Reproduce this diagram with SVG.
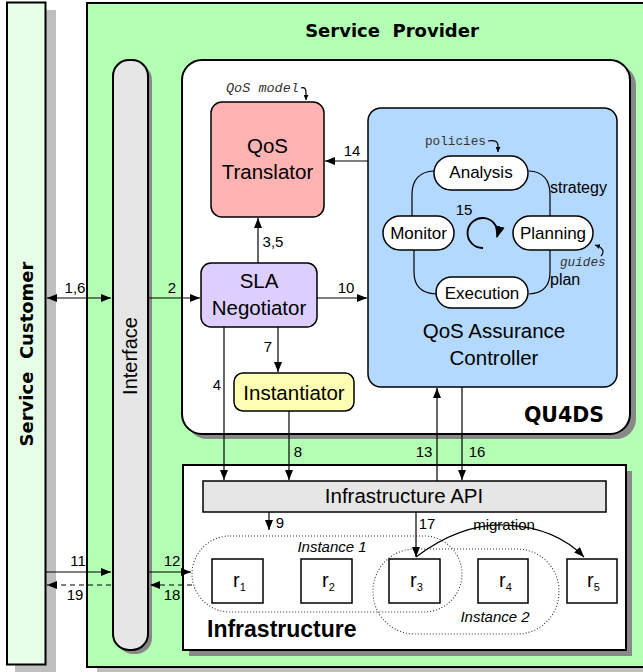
<svg xmlns="http://www.w3.org/2000/svg" width="643" height="672" viewBox="0 0 643 672">
<defs>
<marker id="ah" viewBox="0 0 10 8" refX="10" refY="4" markerWidth="10" markerHeight="8" markerUnits="userSpaceOnUse" orient="auto-start-reverse"><path d="M0,0 L10,4 L0,8 Z" fill="#000"/></marker>
<marker id="ahs" viewBox="0 0 6 6" refX="6" refY="3" markerWidth="5" markerHeight="5" markerUnits="userSpaceOnUse" orient="auto"><path d="M0,0 L6,3 L0,6 Z" fill="#000"/></marker>
<marker id="ahl" viewBox="0 0 12 10" refX="11" refY="5" markerWidth="12" markerHeight="10" markerUnits="userSpaceOnUse" orient="auto"><path d="M0,0 L12,5 L0,10 Z" fill="#000"/></marker>
</defs>
<style>
.t{font-family:"Liberation Sans",Arial,sans-serif;fill:#000}
.b{font-family:"DejaVu Sans",sans-serif;font-weight:bold;fill:#000;white-space:pre}
.m{font-family:"Liberation Mono","DejaVu Sans Mono",monospace;fill:#333}
.lbl{font-family:"Liberation Sans",Arial,sans-serif;font-size:15px;fill:#000}
.c{stroke:#000;stroke-width:1.2;fill:none}
.d{stroke:#000;stroke-width:1.2;fill:none;stroke-dasharray:5,4}
.dot{stroke:#333;stroke-width:1.1;fill:none;stroke-dasharray:1,2}
.box{stroke:#000;stroke-width:2}
.sb{stroke:#000;stroke-width:1.5}
</style>
<rect width="643" height="672" fill="#fff"/>
<!-- Service Customer -->
<g id="customer">
<rect x="15" y="10" width="41" height="662" fill="#bfbfbf"/>
<rect x="7" y="2.5" width="38.5" height="662" fill="#e6ffe6" class="box"/>
<text class="b" font-size="18" transform="translate(33,354) rotate(-90)" text-anchor="middle">Service  Customer</text>
</g>
<!-- Service Provider -->
<g id="provider">
<rect x="97" y="12" width="560" height="662" fill="#bfbfbf"/>
<rect x="87" y="3" width="570" height="664" fill="#b3ffb3" class="box"/>
<text class="b" font-size="18" x="392" y="37" text-anchor="middle">Service  Provider</text>
</g>
<!-- Interface -->
<g id="interface">
<rect x="117" y="64" width="35" height="590" rx="16" fill="#888"/>
<rect x="113" y="60" width="35" height="590" rx="16" fill="#e6e6e6" class="box"/>
<text class="t" font-size="20" transform="translate(137,356) rotate(-90)" text-anchor="middle">Interface</text>
</g>
<!-- QU4DS -->
<g id="qu4ds">
<rect x="187" y="65" width="449" height="374" rx="20" fill="#888"/>
<rect x="182" y="60" width="448" height="374" rx="20" fill="#fff" class="box"/>
<text class="b" font-size="20.5" x="604" y="422" text-anchor="end">QU4DS</text>
</g>
<!-- QoS Translator -->
<g id="translator">
<rect x="211" y="102" width="113" height="115" rx="11" fill="#ffb3b3" class="sb"/>
<text class="t" font-size="20.5" x="267.5" y="153" text-anchor="middle">QoS</text>
<text class="t" font-size="20.5" x="267.5" y="179" text-anchor="middle">Translator</text>
<text class="m" font-size="13.5" font-style="italic" x="226" y="92">QoS model</text>
</g>
<!-- QoS Assurance Controller -->
<g id="controller">
<rect x="368" y="108" width="249" height="279" rx="13" fill="#b3d9ff" class="sb"/>
<text class="t" font-size="20.5" x="494" y="338" text-anchor="middle">QoS Assurance</text>
<text class="t" font-size="20.5" x="494" y="365" text-anchor="middle">Controller</text>
</g>
<g id="analysis">
<rect x="434" y="156" width="94" height="34" rx="17" fill="#fff" class="sb"/>
<text class="t" font-size="17" x="481" y="178" text-anchor="middle">Analysis</text>
<text class="m" font-size="12.7" x="425" y="145">policies</text>
</g>
<g id="monitor">
<rect x="383" y="216" width="71" height="34" rx="17" fill="#fff" class="sb"/>
<text class="t" font-size="17" x="418.5" y="239" text-anchor="middle">Monitor</text>
</g>
<g id="planning">
<rect x="513" y="216" width="80" height="34" rx="17" fill="#fff" class="sb"/>
<text class="t" font-size="17" x="553" y="239" text-anchor="middle">Planning</text>
<text class="m" font-size="12.7" font-style="italic" x="560" y="266">guides</text>
</g>
<g id="execution">
<rect x="436" y="277" width="92" height="31" rx="15.5" fill="#fff" class="sb"/>
<text class="t" font-size="17" x="482" y="299" text-anchor="middle">Execution</text>
</g>
<!-- SLA Negotiator -->
<g id="negotiator">
<rect x="201" y="263" width="116" height="64" rx="10" fill="#dccfff" class="sb"/>
<text class="t" font-size="20.5" x="259" y="288" text-anchor="middle">SLA</text>
<text class="t" font-size="20.5" x="259" y="315" text-anchor="middle">Negotiator</text>
</g>
<!-- Instantiator -->
<g id="instantiator">
<rect x="234" y="373" width="120" height="38" rx="9" fill="#ffffb3" class="sb"/>
<text class="t" font-size="20.5" x="294" y="400" text-anchor="middle">Instantiator</text>
</g>
<!-- Infrastructure -->
<g id="infrastructure">
<rect x="189" y="471" width="443" height="185" fill="#888"/>
<rect x="183" y="465" width="443" height="185" fill="#fff" class="box"/>
<text class="t" font-size="23" font-weight="bold" x="207" y="637">Infrastructure</text>
</g>
<g id="api">
<rect x="203" y="481" width="403" height="31" fill="#e6e6e6" class="sb"/>
<text class="t" font-size="20.5" x="404" y="503" text-anchor="middle">Infrastructure API</text>
</g>
<g id="instance1">
<rect x="192" y="536" width="270" height="76" rx="38" class="dot"/>
<text class="t" font-size="15" font-style="italic" x="332" y="552" text-anchor="middle">Instance 1</text>
</g>
<g id="instance2">
<rect x="373" y="549" width="186" height="85" rx="42" class="dot"/>
<text class="t" font-size="15" font-style="italic" x="495" y="622" text-anchor="middle">Instance 2</text>
</g>
<g id="r1"><rect x="212" y="559" width="51" height="44" fill="#fff" class="sb"/><text class="t" font-size="20" x="233" y="587">r<tspan font-size="11" dy="4">1</tspan></text></g>
<g id="r2"><rect x="301" y="559" width="51" height="44" fill="#fff" class="sb"/><text class="t" font-size="20" x="322" y="587">r<tspan font-size="11" dy="4">2</tspan></text></g>
<g id="r3"><rect x="389" y="559" width="51" height="44" fill="#fff" class="sb"/><text class="t" font-size="20" x="410" y="587">r<tspan font-size="11" dy="4">3</tspan></text></g>
<g id="r4"><rect x="478" y="559" width="50" height="44" fill="#fff" class="sb"/><text class="t" font-size="20" x="499" y="587">r<tspan font-size="11" dy="4">4</tspan></text></g>
<g id="r5"><rect x="567" y="559" width="50" height="44" fill="#fff" class="sb"/><text class="t" font-size="20" x="587" y="587">r<tspan font-size="11" dy="4">5</tspan></text></g>
<!-- connectors -->
<g id="connectors">
<line x1="47" y1="298" x2="111" y2="298" class="c" marker-start="url(#ah)" marker-end="url(#ah)"/>
<line x1="148" y1="298" x2="200" y2="298" class="c" marker-end="url(#ah)"/>
<line x1="317" y1="298" x2="367" y2="298" class="c" marker-end="url(#ah)"/>
<line x1="258" y1="263" x2="258" y2="218" class="c" marker-end="url(#ah)"/>
<line x1="368" y1="161" x2="325" y2="161" class="c" marker-end="url(#ah)"/>
<line x1="278" y1="327" x2="278" y2="372" class="c" marker-end="url(#ah)"/>
<line x1="224" y1="327" x2="224" y2="480" class="c" marker-end="url(#ah)"/>
<line x1="289" y1="411" x2="289" y2="480" class="c" marker-end="url(#ah)"/>
<line x1="437" y1="481" x2="437" y2="388" class="c" marker-end="url(#ah)"/>
<line x1="462" y1="387" x2="462" y2="480" class="c" marker-end="url(#ah)"/>
<line x1="269" y1="512" x2="269" y2="530" class="c" marker-end="url(#ah)"/>
<line x1="416" y1="512" x2="416" y2="557" class="c" marker-end="url(#ah)"/>
<line x1="46" y1="572" x2="111" y2="572" class="c" marker-end="url(#ah)"/>
<line x1="148" y1="572" x2="191" y2="572" class="c" marker-end="url(#ah)"/>
<line x1="111" y1="585" x2="47" y2="585" class="d" marker-end="url(#ah)"/>
<line x1="192" y1="585" x2="150" y2="585" class="d" marker-end="url(#ah)"/>
<path d="M416,557 Q460,524 504,525 Q555,527 584,557" class="c" marker-end="url(#ah)"/>
<path d="M434,171 Q412,172 412,195 L412,216" class="c"/>
<path d="M529,171 Q550,172 550,195 L550,216" class="c"/>
<path d="M550,250 L550,272 Q550,293 529,294" class="c"/>
<path d="M414,250 L414,272 Q414,293 436,294" class="c"/>
<path d="M483,248 A15,15 0 1 1 497,237" stroke="#000" stroke-width="1.8" fill="none" marker-end="url(#ahl)"/>
<path d="M301,88 Q306,86 306,93 L306,100" class="c" stroke-width="1" marker-end="url(#ahs)"/>
<path d="M488,141 Q498,139 498,146 L498,152" class="c" stroke-width="1" marker-end="url(#ahs)"/>
<path d="M601,256 Q607,249 595,245" class="c" stroke-width="1" marker-end="url(#ahs)"/>
<text class="lbl" x="75" y="293" text-anchor="middle">1,6</text>
<text class="lbl" x="172" y="293" text-anchor="middle">2</text>
<text class="lbl" x="346" y="293" text-anchor="middle">10</text>
<text class="lbl" x="273" y="247" text-anchor="middle">3,5</text>
<text class="lbl" x="352" y="156" text-anchor="middle">14</text>
<text class="lbl" x="268" y="352" text-anchor="middle">7</text>
<text class="lbl" x="217" y="390" text-anchor="middle">4</text>
<text class="lbl" x="298" y="457" text-anchor="middle">8</text>
<text class="lbl" x="424" y="457" text-anchor="middle">13</text>
<text class="lbl" x="477" y="457" text-anchor="middle">16</text>
<text class="lbl" x="280" y="528" text-anchor="middle">9</text>
<text class="lbl" x="427" y="529" text-anchor="middle">17</text>
<text class="lbl" x="78" y="566" text-anchor="middle">11</text>
<text class="lbl" x="172" y="566" text-anchor="middle">12</text>
<text class="lbl" x="75" y="600" text-anchor="middle">19</text>
<text class="lbl" x="172" y="600" text-anchor="middle">18</text>
<text class="lbl" x="464" y="215" text-anchor="middle">15</text>
<text class="t" font-size="16" x="550" y="193">strategy</text>
<text class="t" font-size="16" x="550" y="285">plan</text>
<text class="t" font-size="15" x="504" y="530" text-anchor="middle">migration</text>
</g>
</svg>
